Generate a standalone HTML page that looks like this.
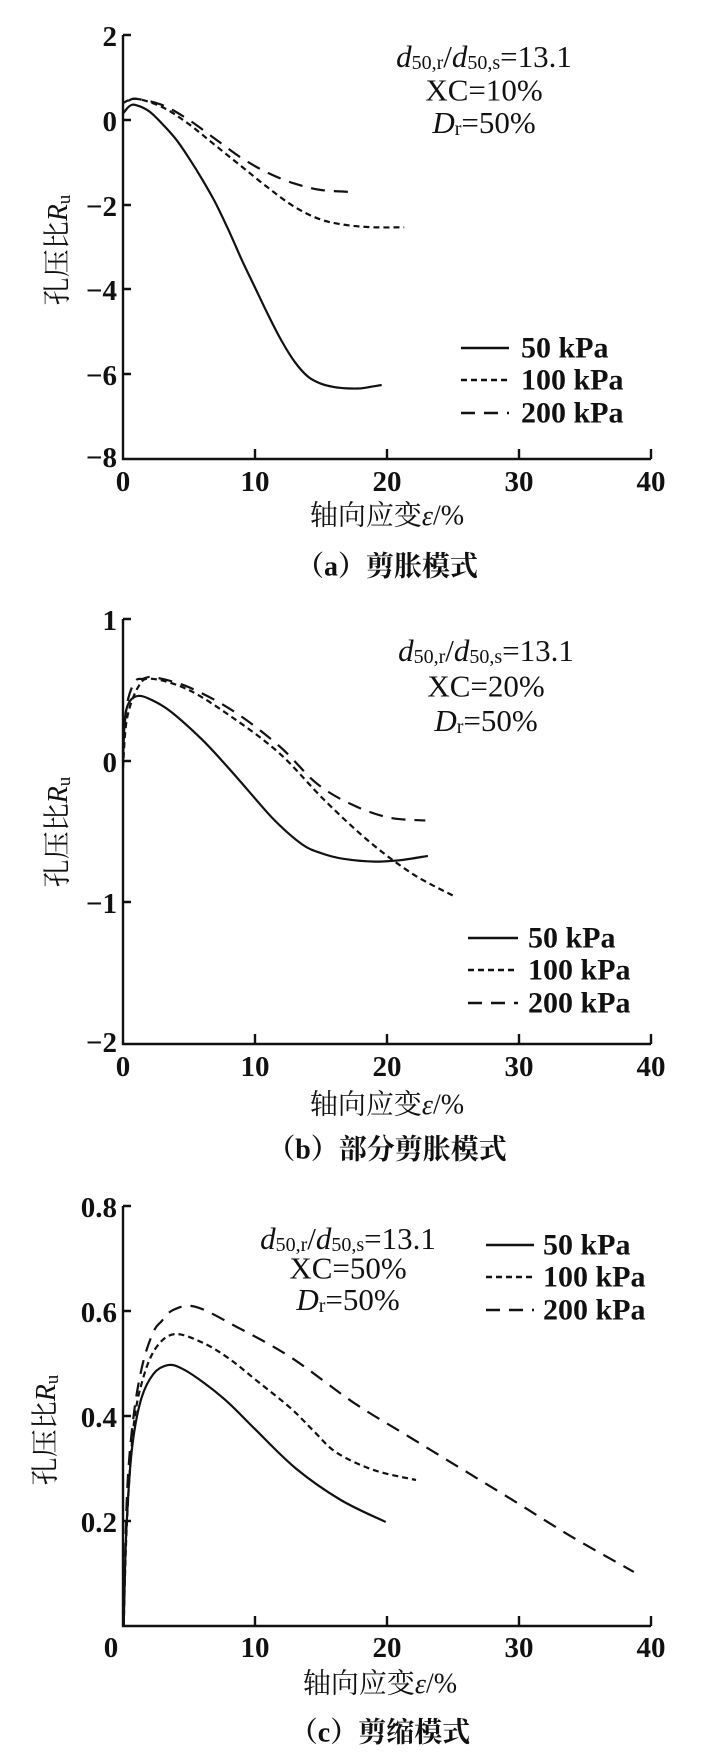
<!DOCTYPE html>
<html><head><meta charset="utf-8">
<style>
html,body{margin:0;padding:0;background:#fff;}
svg{display:block;}
text{font-family:"Liberation Serif","Noto Serif CJK SC",serif;fill:#111;}
.cj{font-family:"Liberation Serif","Noto Sans CJK SC",sans-serif;}
.tk{font-size:29px;font-weight:bold;}
.ann{font-size:31px;}
.lg{font-size:30px;font-weight:bold;}
</style></head>
<body>
<svg width="709" height="1756" viewBox="0 0 709 1756" xmlns="http://www.w3.org/2000/svg">
<g stroke="#111" stroke-width="2.4" fill="none">
  <path d="M123,35 V459 H651"/>
  <path d="M123,35 h8 M123,120 h8 M123,205 h8 M123,289 h8 M123,374 h8 M255,459 v-10 M387,459 v-10 M519,459 v-10 M651,459 v-10"/>
  <path d="M123,619 V1044 H651"/>
  <path d="M123,619 h8 M123,761 h8 M123,902 h8 M255,1044 v-10 M387,1044 v-10 M519,1044 v-10 M651,1044 v-10"/>
  <path d="M123,1206 V1626 H651"/>
  <path d="M123,1206 h8 M123,1311 h8 M123,1416 h8 M123,1521 h8 M255,1626 v-10 M387,1626 v-10 M519,1626 v-10 M651,1626 v-10"/>
</g>
<g id="curves" fill="none" stroke="#111" stroke-width="2.2" stroke-linejoin="round">
  <path id="a1"/><path id="a2" stroke-dasharray="6 4"/><path id="a3" stroke-dasharray="14 9"/>
  <path id="b1"/><path id="b2" stroke-dasharray="6 4"/><path id="b3" stroke-dasharray="14 9"/>
  <path id="c1"/><path id="c2" stroke-dasharray="6 4"/><path id="c3" stroke-dasharray="14 9"/>
</g>
<g stroke="#111" stroke-width="2.4">
  <line x1="461" y1="348" x2="509" y2="348"/>
  <line x1="461" y1="380" x2="509" y2="380" stroke-dasharray="6 4"/>
  <line x1="461" y1="413" x2="509" y2="413" stroke-dasharray="14 9"/>
  <line x1="468" y1="938" x2="518" y2="938"/>
  <line x1="468" y1="970" x2="518" y2="970" stroke-dasharray="6 4"/>
  <line x1="468" y1="1003" x2="518" y2="1003" stroke-dasharray="14 9"/>
  <line x1="486" y1="1245" x2="534" y2="1245"/>
  <line x1="486" y1="1277" x2="534" y2="1277" stroke-dasharray="6 4"/>
  <line x1="486" y1="1310" x2="534" y2="1310" stroke-dasharray="14 9"/>
</g>
<g class="lg" dominant-baseline="central">
  <text x="521" y="348">50 kPa</text><text x="521" y="380">100 kPa</text><text x="521" y="413">200 kPa</text>
  <text x="528" y="938">50 kPa</text><text x="528" y="970">100 kPa</text><text x="528" y="1003">200 kPa</text>
  <text x="543" y="1245">50 kPa</text><text x="543" y="1277">100 kPa</text><text x="543" y="1310">200 kPa</text>
</g>
<g class="tk" text-anchor="end" dominant-baseline="central">
  <text x="117" y="37">2</text><text x="117" y="122">0</text><text x="117" y="207">−2</text><text x="117" y="291">−4</text><text x="117" y="376">−6</text><text x="117" y="458">−8</text>
  <text x="117" y="621">1</text><text x="117" y="763">0</text><text x="117" y="904">−1</text><text x="117" y="1043">−2</text>
  <text x="117" y="1208">0.8</text><text x="117" y="1313">0.6</text><text x="117" y="1418">0.4</text><text x="117" y="1523">0.2</text>
</g>
<g class="tk" text-anchor="middle" dominant-baseline="central">
  <text x="123" y="482">0</text><text x="255" y="482">10</text><text x="387" y="482">20</text><text x="519" y="482">30</text><text x="651" y="482">40</text>
  <text x="123" y="1067">0</text><text x="255" y="1067">10</text><text x="387" y="1067">20</text><text x="519" y="1067">30</text><text x="651" y="1067">40</text>
  <text x="111" y="1648">0</text><text x="255" y="1648">10</text><text x="387" y="1648">20</text><text x="519" y="1648">30</text><text x="651" y="1648">40</text>
</g>
<g class="ann" text-anchor="middle" dominant-baseline="central">
  <text x="484" y="56"><tspan font-style="italic">d</tspan><tspan font-size="20" dy="7">50,r</tspan><tspan dy="-7">/</tspan><tspan font-style="italic">d</tspan><tspan font-size="20" dy="7">50,s</tspan><tspan dy="-7">=13.1</tspan></text>
  <text x="484" y="90">XC=10%</text>
  <text x="484" y="122"><tspan font-style="italic">D</tspan><tspan font-size="20" dy="7">r</tspan><tspan dy="-7">=50%</tspan></text>
  <text x="486" y="650"><tspan font-style="italic">d</tspan><tspan font-size="20" dy="7">50,r</tspan><tspan dy="-7">/</tspan><tspan font-style="italic">d</tspan><tspan font-size="20" dy="7">50,s</tspan><tspan dy="-7">=13.1</tspan></text>
  <text x="486" y="686">XC=20%</text>
  <text x="486" y="720"><tspan font-style="italic">D</tspan><tspan font-size="20" dy="7">r</tspan><tspan dy="-7">=50%</tspan></text>
  <text x="348" y="1238"><tspan font-style="italic">d</tspan><tspan font-size="20" dy="7">50,r</tspan><tspan dy="-7">/</tspan><tspan font-style="italic">d</tspan><tspan font-size="20" dy="7">50,s</tspan><tspan dy="-7">=13.1</tspan></text>
  <text x="348" y="1268">XC=50%</text>
  <text x="348" y="1299"><tspan font-style="italic">D</tspan><tspan font-size="20" dy="7">r</tspan><tspan dy="-7">=50%</tspan></text>
</g>
<g class="cj" font-size="28" text-anchor="middle" dominant-baseline="central">
  <text x="387" y="516">轴向应变<tspan font-family="Liberation Serif" font-style="italic">ε</tspan>/%</text>
  <text x="387" y="567" font-weight="bold">（a）剪胀模式</text>
  <text x="387" y="1105">轴向应变<tspan font-family="Liberation Serif" font-style="italic">ε</tspan>/%</text>
  <text x="387" y="1150" font-weight="bold">（b）部分剪胀模式</text>
  <text x="380" y="1684">轴向应变<tspan font-family="Liberation Serif" font-style="italic">ε</tspan>/%</text>
  <text x="380" y="1733" font-weight="bold">（c）剪缩模式</text>
  <text transform="translate(58,250) rotate(-90)">孔压比<tspan font-family="Liberation Serif" font-style="italic">R</tspan><tspan font-family="Liberation Serif" font-size="19" dy="6">u</tspan></text>
  <text transform="translate(58,832) rotate(-90)">孔压比<tspan font-family="Liberation Serif" font-style="italic">R</tspan><tspan font-family="Liberation Serif" font-size="19" dy="6">u</tspan></text>
  <text transform="translate(46,1430) rotate(-90)">孔压比<tspan font-family="Liberation Serif" font-style="italic">R</tspan><tspan font-family="Liberation Serif" font-size="19" dy="6">u</tspan></text>
</g>
</svg>
<script>
function X(x){return 123+13.2*x;}
function mk(id,pts,Y){
  var p=pts.map(function(q){return [X(q[0]),Y(q[1])];});
  var d="M"+p[0][0].toFixed(1)+","+p[0][1].toFixed(1);
  for(var i=0;i<p.length-1;i++){
    var p0=p[i-1]||p[i],p1=p[i],p2=p[i+1],p3=p[i+2]||p2;
    var c1=[p1[0]+(p2[0]-p0[0])/6,p1[1]+(p2[1]-p0[1])/6];
    var c2=[p2[0]-(p3[0]-p1[0])/6,p2[1]-(p3[1]-p1[1])/6];
    d+=" C"+c1[0].toFixed(1)+","+c1[1].toFixed(1)+" "+c2[0].toFixed(1)+","+c2[1].toFixed(1)+" "+p2[0].toFixed(1)+","+p2[1].toFixed(1);
  }
  document.getElementById(id).setAttribute("d",d);
}
var Ya=function(v){return 120-42.4*v;},Yb=function(v){return 761-141.7*v;},Yc=function(v){return 1626-525*v;};
mk("a1",[[0,0.15],[0.5,0.33],[1,0.35],[2,0.2],[3,-0.1],[4,-0.45],[5,-0.9],[6,-1.4],[7,-1.95],[8,-2.6],[9,-3.3],[10,-3.95],[11,-4.6],[12,-5.2],[13,-5.7],[14,-6.05],[15,-6.22],[16,-6.3],[17,-6.33],[18,-6.33],[19,-6.28],[19.6,-6.25]],Ya);
mk("a2",[[0,0.4],[1,0.5],[3,0.3],[5,-0.1],[7,-0.6],[9,-1.1],[11,-1.6],[13,-2.05],[15,-2.35],[17,-2.48],[19,-2.53],[21.3,-2.53]],Ya);
mk("a3",[[0.4,0.45],[1,0.5],[3,0.35],[5,0.0],[7,-0.45],[9,-0.9],[11,-1.25],[13,-1.5],[15,-1.65],[17.5,-1.7]],Ya);
mk("b1",[[0,0],[0.15,0.3],[0.5,0.42],[1.2,0.46],[2.2,0.43],[3.6,0.35],[6,0.15],[8,-0.05],[9.5,-0.21],[11.5,-0.42],[13.6,-0.59],[15,-0.65],[16.7,-0.69],[19.1,-0.71],[21,-0.7],[23.1,-0.67]],Yb);
mk("b2",[[0,-0.05],[0.3,0.3],[1.2,0.53],[2.2,0.58],[5,0.5],[8.4,0.3],[11.9,0.05],[15.3,-0.28],[18.8,-0.58],[22,-0.8],[25,-0.95]],Yb);
mk("b3",[[0,0.1],[0.3,0.4],[0.9,0.56],[1.5,0.58],[2.4,0.59],[5,0.52],[8.4,0.35],[11.9,0.1],[14.7,-0.16],[17.4,-0.31],[20.2,-0.4],[22.9,-0.42]],Yb);
mk("c1",[[0.05,0],[0.25,0.18],[0.67,0.335],[1.35,0.43],[2.3,0.48],[3.4,0.497],[4.5,0.49],[6.2,0.462],[8,0.425],[10,0.375],[13.1,0.30],[16.5,0.24],[19.9,0.198]],Yc);
mk("c2",[[0.05,0],[0.3,0.2],[0.8,0.38],[1.5,0.47],[2.5,0.53],[3.9,0.556],[6,0.54],[8,0.51],[10,0.47],[12.7,0.415],[14.5,0.37],[16.2,0.33],[19,0.297],[22.2,0.278]],Yc);
mk("c3",[[0.05,0],[0.3,0.25],[0.8,0.4],[1.5,0.5],[2.3,0.56],[2.9,0.58],[3.8,0.602],[5.5,0.608],[8.6,0.57],[12.7,0.512],[17.5,0.425],[21.7,0.36],[25.8,0.297],[29.9,0.234],[34,0.17],[38.7,0.103]],Yc);
</script>
</body></html>
